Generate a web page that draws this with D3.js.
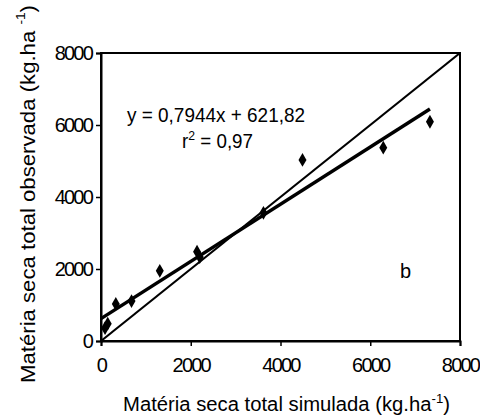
<!DOCTYPE html>
<html>
<head>
<meta charset="utf-8">
<script src="https://cdn.jsdelivr.net/npm/d3@7"></script>
<style>
  body { margin: 0; background: #fff; }
  text { font-family: Arial, "Liberation Sans", sans-serif; fill: #000; }
</style>
</head>
<body>
<div id="chart"></div>
<script>
const simulada = [90, 150, 330, 680, 1310, 2140, 2200, 3620, 4490, 6290, 7330];
const observada = [360, 480, 1030, 1110, 1950, 2480, 2330, 3560, 5030, 5370, 6090];
const xTicks = [0, 2000, 4000, 6000, 8000];
const yTicks = [0, 2000, 4000, 6000, 8000];
const slope = 0.7944;
const intercept = 621.82;
const fitRange = [0, 7330];

const W = 480, H = 417;
const margin = { top: 53, right: 20, bottom: 76, left: 101 };

const svg = d3.select("#chart").append("svg")
  .attr("width", W).attr("height", H);

const x = d3.scaleLinear().domain([0, 8000]).range([margin.left, W - margin.right]);
const y = d3.scaleLinear().domain([0, 8000]).range([H - margin.bottom, margin.top]);

// frame
svg.append("rect")
  .attr("x", x(0)).attr("y", y(8000))
  .attr("width", x(8000) - x(0)).attr("height", y(0) - y(8000))
  .attr("fill", "none").attr("stroke", "#000").attr("stroke-width", 2);

// axes
const xAxis = svg.append("g")
  .attr("transform", `translate(0,${y(0)})`)
  .call(d3.axisBottom(x).tickValues(xTicks).tickSize(5).tickPadding(12).tickFormat(d3.format("d")));
const yAxis = svg.append("g")
  .attr("transform", `translate(${x(0)},0)`)
  .call(d3.axisLeft(y).tickValues(yTicks).tickSize(5).tickPadding(4).tickFormat(d3.format("d")));

[xAxis, yAxis].forEach(g => {
  g.select(".domain").attr("stroke-width", 2);
  g.selectAll(".tick line").attr("stroke-width", 1.5);
  g.selectAll(".tick text")
    .attr("font-size", 20).attr("letter-spacing", -1.8)
    .style("font-family", "Arial, 'Liberation Sans', sans-serif");
});

// 1:1 line
svg.append("line")
  .attr("x1", x(0)).attr("y1", y(0))
  .attr("x2", x(8000)).attr("y2", y(8000))
  .attr("stroke", "#000").attr("stroke-width", 2.2);

// regression line
svg.append("line")
  .attr("x1", x(fitRange[0])).attr("y1", y(slope * fitRange[0] + intercept))
  .attr("x2", x(fitRange[1])).attr("y2", y(slope * fitRange[1] + intercept))
  .attr("stroke", "#000").attr("stroke-width", 3.5);

// points
svg.append("g").selectAll("path")
  .data(simulada.map((d, i) => [d, observada[i]]))
  .join("path")
  .attr("d", d3.symbol(d3.symbolDiamond, 55))
  .attr("transform", d => `translate(${x(d[0])},${y(d[1])})`)
  .attr("fill", "#000");

// equation
svg.append("text")
  .attr("x", 127).attr("y", 122)
  .attr("font-size", 20).attr("textLength", 178).attr("lengthAdjust", "spacingAndGlyphs")
  .text("y = 0,7944x + 621,82");
const r2 = svg.append("text")
  .attr("x", 182).attr("y", 148)
  .attr("font-size", 20);
r2.append("tspan").text("r");
r2.append("tspan").attr("font-size", 13).attr("dy", -8).text("2");
r2.append("tspan").attr("dy", 8).text(" = 0,97");
r2.attr("textLength", 71).attr("lengthAdjust", "spacingAndGlyphs");

svg.append("text")
  .attr("x", 400).attr("y", 278)
  .attr("font-size", 20).text("b");

// axis titles
const xt = svg.append("text")
  .attr("x", 123).attr("y", 411)
  .attr("font-size", 20);
xt.append("tspan").text("Matéria seca total simulada  (kg.ha");
xt.append("tspan").attr("font-size", 13).attr("dy", -8).text("-1");
xt.append("tspan").attr("dy", 8).text(")");
xt.attr("textLength", 327).attr("lengthAdjust", "spacingAndGlyphs");

const yt = svg.append("text")
  .attr("transform", "translate(35,383) rotate(-90)")
  .attr("font-size", 21);
yt.append("tspan").text("Matéria seca total observada (kg.ha   ");
yt.append("tspan").attr("font-size", 13).attr("dy", -10).text("-1");
yt.append("tspan").attr("dy", 10).text(")");
yt.attr("textLength", 378).attr("lengthAdjust", "spacingAndGlyphs");
</script>
</body>
</html>
